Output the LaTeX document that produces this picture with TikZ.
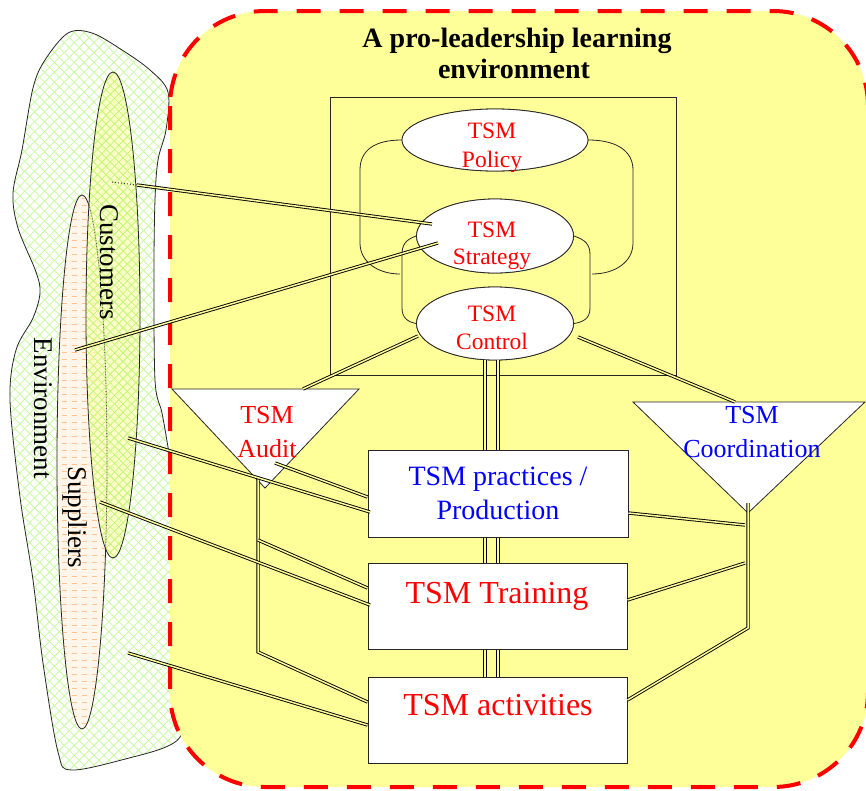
\documentclass[tikz,border=0pt]{standalone}
\usepackage{fontspec}
\setmainfont{Liberation Serif}
\usetikzlibrary{patterns,patterns.meta,shapes.geometric}
\definecolor{bgY}{RGB}{255,255,153}
\definecolor{envG}{RGB}{200,250,160}
\definecolor{custF}{RGB}{255,255,185}
\definecolor{custL}{RGB}{195,245,120}
\definecolor{supF}{RGB}{255,245,232}
\definecolor{supD}{RGB}{255,195,145}
\pgfdeclarepatternformonly{hdash}{\pgfpoint{-1pt}{-1pt}}{\pgfpoint{11pt}{8pt}}{\pgfpoint{10pt}{7pt}}{\pgfsetlinewidth{1.3pt}\pgfpathmoveto{\pgfpoint{1.5pt}{3.5pt}}\pgfpathlineto{\pgfpoint{6.5pt}{3.5pt}}\pgfusepath{stroke}}
\tikzset{
 dbl/.style={draw=black, line width=0.9pt, double=bgY, double distance=1.5pt},
 ell/.style={ellipse, draw=black!85, fill=white, line width=0.8pt, inner sep=0pt},
 boxn/.style={rectangle, draw=black!85, fill=white, line width=1pt, inner sep=0pt},
 thinl/.style={draw=black!85, line width=0.8pt},
 txt/.style={anchor=base, inner sep=0pt},
 redt/.style={txt, text=red},
 bluet/.style={txt, text=blue},
}
\begin{document}
\begin{tikzpicture}[x=1pt,y=-1pt]
\useasboundingbox (0,0) rectangle (866,790);
\fill[white] (0,0) rectangle (866,790);
% environment cloud
\path[thinl, preaction={fill=white},
  preaction={pattern={Lines[angle=45,distance=7pt,line width=0.8pt]}, pattern color=envG},
  preaction={pattern={Lines[angle=-45,distance=7pt,line width=0.8pt]}, pattern color=envG}]
  plot[smooth cycle, tension=0.55] coordinates {(68,33) (92,33) (122,50) (150,70) (168,92) (166,130) (158,160) (155,200) (154,270) (155,380) (162,413) (168,447) (180,520) (186,620) (185,700) (182,733) (168,746) (133,757) (72,770) (58,752) (43,663) (33,580) (20,497) (10,400) (16,350) (33,318) (40,293) (36,272) (18,228) (13,193) (22,150) (33,88) (45,60)};
% learning environment
\draw[red, line width=4pt, dash pattern=on 24pt off 19pt, fill=bgY, rounded corners=95pt] (170,11) rectangle (868,787);
% suppliers
\node[ellipse, minimum width=50pt, minimum height=534pt, inner sep=0pt, thinl,
  preaction={fill=supF}, preaction={pattern=hdash, pattern color=supD}] (sup) at (82,462) {};
% customers
\node[ellipse, minimum width=54pt, minimum height=486pt, inner sep=0pt, thinl,
  preaction={fill=custF, fill opacity=0.7},
  preaction={pattern={Lines[angle=45,distance=6pt,line width=0.8pt]}, pattern color=custL},
  preaction={pattern={Lines[angle=-45,distance=6pt,line width=0.8pt]}, pattern color=custL}] (cust) at (113,315) {};
\begin{scope}
\clip (cust.center) ellipse [x radius=27pt, y radius=243pt];
\draw[dotted, black!70, line width=0.8pt] (sup.center) ellipse [x radius=25pt, y radius=267pt];
\end{scope}
\node[rotate=-90, anchor=base, inner sep=0pt, font=\fontsize{27}{30}\selectfont] (envtxt) at (34,408) {Environment};
\node[rotate=-90, anchor=base, inner sep=0pt, font=\fontsize{27}{30}\selectfont] (custtxt) at (100,262) {Customers};
\node[rotate=-90, anchor=base, inner sep=0pt, font=\fontsize{27}{30}\selectfont] (suptxt) at (68,517) {Suppliers};
% title
\node[txt, font=\bfseries\fontsize{28}{30}\selectfont] (title1) at (517,47) {A pro-leadership learning};
\node[txt, font=\bfseries\fontsize{28}{30}\selectfont] (title2) at (514,78) {environment};
% inner square
\draw[thinl] (330,97) rectangle (676,375);
% ellipses
\node[ell, minimum width=186pt, minimum height=62pt] (pol) at (495,140) {};
\node[ell, minimum width=157pt, minimum height=74pt] (str) at (495,236) {};
\node[ell, minimum width=157pt, minimum height=73pt] (ctl) at (495,323.5) {};
% loops
\draw[thinl] (pol.west) .. controls (375,140) and (360,150) .. (360,170) -- (360,243) .. controls (360,262) and (378,274) .. (400,274);
\draw[thinl] (pol.east) .. controls (615,140) and (633,150) .. (633,170) -- (633,243) .. controls (633,262) and (615,274) .. (592,274);
\draw[thinl] (str.west) .. controls (405,240) and (402,245) .. (402,255) -- (402,308) .. controls (402,318) and (408,322) .. (ctl.west);
\draw[thinl] (str.east) .. controls (586,240) and (590,245) .. (590,255) -- (590,308) .. controls (590,318) and (584,322) .. (ctl.east);
\node[ell, minimum width=186pt, minimum height=62pt] at (495,140) {};
\node[ell, minimum width=157pt, minimum height=74pt] at (495,236) {};
\node[ell, minimum width=157pt, minimum height=73pt] at (495,323.5) {};
\begin{scope}[font=\fontsize{23.5}{29}\selectfont]
\node[redt] (polt1) at (492,138) {TSM};
\node[redt] (polt2) at (492,167) {Policy};
\node[redt] (strt1) at (492,237) {TSM};
\node[redt] (strt2) at (492,264) {Strategy};
\node[redt] (ctlt1) at (492,321) {TSM};
\node[redt] (ctlt2) at (492,349) {Control};
\end{scope}
% triangles
\draw[thinl, fill=white] (172,389) -- (359,389) -- (265,488) -- cycle;
\draw[thinl, fill=white] (633,402) -- (865,402) -- (748,513) -- cycle;
\begin{scope}[font=\fontsize{26}{30}\selectfont]
\node[redt] (aut1) at (267,423) {TSM};
\node[redt] (aut2) at (267,457) {Audit};
\node[bluet] (cot1) at (752,423) {TSM};
\node[bluet] (cot2) at (752,457) {Coordination};
\end{scope}
% boxes
\node[boxn, minimum width=260pt, minimum height=87pt] (prac) at (498,493.5) {};
\node[boxn, minimum width=259pt, minimum height=86pt] (trn) at (497.5,606) {};
\node[boxn, minimum width=259pt, minimum height=86pt] (act) at (497.5,720) {};
\node[bluet, font=\fontsize{28}{34}\selectfont] (pract1) at (498,485) {TSM practices /};
\node[bluet, font=\fontsize{28}{34}\selectfont] (pract2) at (498,519) {Production};
\node[redt, font=\fontsize{32}{36}\selectfont] (trnt) at (497,603) {TSM Training};
\node[redt, font=\fontsize{32}{36}\selectfont] (actt) at (498,715) {TSM activities};
% connector end points
\coordinate (cA) at (137,185); \coordinate (cAd) at (112,182);
\coordinate (sA) at (75,350);
\coordinate (cB) at (128,438);
\coordinate (sB) at (100,502);
\coordinate (sC) at (128,653);
\coordinate (strA) at (432,224); \coordinate (strB) at (438,243);
\coordinate (ctlA) at (418,336); \coordinate (ctlB) at (578,337);
\coordinate (audTop) at (303,389); \coordinate (cooTop) at (735,402);
\coordinate (audBot) at (258,478); \coordinate (audIn) at (275,463);
\coordinate (audBend) at (258,652); \coordinate (audMid) at (258,540);
\coordinate (cooBot) at (748,503); \coordinate (cooBend) at (748,628);
\coordinate (cooMidA) at (745,525); \coordinate (cooMidB) at (745,563);
% connectors
\draw[dotted, black!80, line width=1pt] (cAd) -- (cA);
\draw[dbl] (cA) -- (strA);
\draw[dbl] (sA) -- (strB);
\draw[dbl] (ctlA) -- (audTop);
\draw[dbl] (ctlB) -- (cooTop);
\draw[dbl] (ctl.south -| 485,0) -- (prac.north -| 485,0);
\draw[dbl] (ctl.south -| 498,0) -- (prac.north -| 498,0);
\draw[dbl] (prac.south -| 485,0) -- (trn.north -| 485,0);
\draw[dbl] (prac.south -| 498,0) -- (trn.north -| 498,0);
\draw[dbl] (trn.south -| 485,0) -- (act.north -| 485,0);
\draw[dbl] (trn.south -| 498,0) -- (act.north -| 498,0);
\draw[dbl] (audBot) -- (audBend) -- (act.west |- 0,702);
\draw[dbl] (audIn) -- (prac.west |- 0,497);
\draw[dbl] (cB) -- (370,512);
\draw[dbl] (audMid) -- (trn.west |- 0,588);
\draw[dbl] (sB) -- (370,605);
\draw[dbl] (sC) -- (act.west |- 0,725);
\draw[dbl] (cooBot) -- (cooBend) -- (act.east |- 0,700);
\draw[dbl] (cooMidA) -- (prac.east |- 0,513);
\draw[dbl] (cooMidB) -- (trn.east |- 0,600);
\end{tikzpicture}
\end{document}
